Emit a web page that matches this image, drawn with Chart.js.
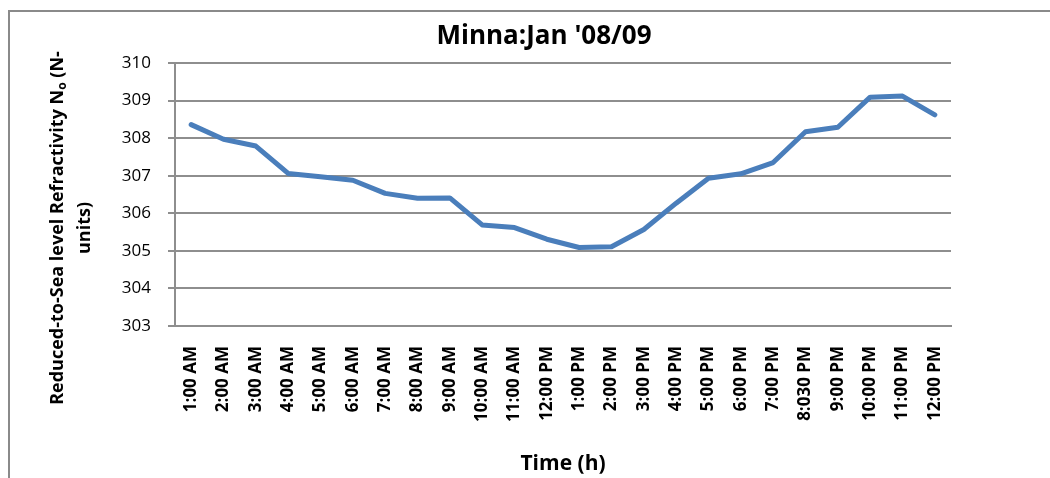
<!DOCTYPE html>
<html>
<head>
<meta charset="utf-8">
<script src="https://cdn.jsdelivr.net/npm/chart.js@4/dist/chart.umd.min.js"></script>
<style>
  html, body { margin: 0; padding: 0; background: #fff; }
  #wrap { position: relative; width: 1050px; height: 478px; }
</style>
</head>
<body>
<div id="wrap"><canvas id="c" width="1050" height="478"></canvas></div>
<script>
// Hourly reduced-to-sea-level refractivity, Minna, January 2008/09
const hours = ['1:00 AM','2:00 AM','3:00 AM','4:00 AM','5:00 AM','6:00 AM','7:00 AM','8:00 AM','9:00 AM','10:00 AM','11:00 AM','12:00 PM',
               '1:00 PM','2:00 PM','3:00 PM','4:00 PM','5:00 PM','6:00 PM','7:00 PM','8:030 PM','9:00 PM','10:00 PM','11:00 PM','12:00 PM'];
const refractivity = [308.36, 307.97, 307.79, 307.06, 306.97, 306.88, 306.53, 306.40, 306.41, 305.69, 305.62, 305.31,
                      305.09, 305.11, 305.57, 306.27, 306.93, 307.05, 307.35, 308.17, 308.29, 309.09, 309.12, 308.62];
const yTicks = [303, 304, 305, 306, 307, 308, 309, 310];

const chartTitle = "Minna:Jan '08/09";
// y-axis title: first line is split around the subscript "o" of N_o
const yTitleLine1 = ['Reduced-to-Sea level Refractivity N', 'o', ' (N-'];
const yTitleLine2 = 'units)';
const xTitle = 'Time (h)';

const FONT = '"Open Sans", sans-serif';
const GRID = '#8e8e8e';

// Frame, chart title and the two-line y-axis title
const decorations = {
  id: 'decorations',
  beforeDraw(chart) {
    const ctx = chart.ctx;
    ctx.save();
    ctx.strokeStyle = '#8a8a8a';
    ctx.lineWidth = 2;
    ctx.beginPath();
    ctx.moveTo(9, 478);
    ctx.lineTo(9, 11);
    ctx.lineTo(1050, 11);
    ctx.stroke();
    ctx.restore();
  },
  afterDraw(chart) {
    const ctx = chart.ctx;
    ctx.save();
    ctx.fillStyle = '#000';
    ctx.textAlign = 'center';
    ctx.textBaseline = 'middle';
    ctx.font = 'bold 26px ' + FONT;
    ctx.fillText(chartTitle, 544, 37);

    // rotated y title, centred on y = 228
    const big = 'bold 18px ' + FONT, small = 'bold 12px ' + FONT;
    ctx.translate(0, 228);
    ctx.rotate(-Math.PI / 2);
    ctx.textAlign = 'left';
    ctx.textBaseline = 'alphabetic';
    ctx.font = big;
    const w0 = ctx.measureText(yTitleLine1[0]).width;
    const w2 = ctx.measureText(yTitleLine1[2]).width;
    ctx.font = small;
    const w1 = ctx.measureText(yTitleLine1[1]).width;
    let x = -(w0 + w1 + w2) / 2;
    const base1 = 63;
    ctx.font = big;
    ctx.fillText(yTitleLine1[0], x, base1);
    x += w0;
    ctx.font = small;
    ctx.fillText(yTitleLine1[1], x, base1 + 3);
    x += w1;
    ctx.font = big;
    ctx.fillText(yTitleLine1[2], x, base1);
    ctx.textAlign = 'center';
    ctx.fillText(yTitleLine2, 0, base1 + 27);
    ctx.restore();
  }
};

new Chart(document.getElementById('c'), {
  type: 'line',
  data: {
    labels: hours,
    datasets: [{
      data: refractivity,
      borderColor: '#4a7ebb',
      borderWidth: 5,
      pointRadius: 0,
      tension: 0,
      borderCapStyle: 'round',
      borderJoinStyle: 'round'
    }]
  },
  options: {
    responsive: false,
    animation: false,
    events: [],
    layout: { padding: { left: 0, right: 99, top: 63, bottom: 0 } },
    plugins: { legend: { display: false }, title: { display: false }, tooltip: { enabled: false } },
    scales: {
      x: {
        offset: true,
        grid: { display: false, drawTicks: false },
        border: { display: true, color: GRID, width: 2 },
        ticks: {
          color: '#000',
          font: { family: FONT, size: 17, weight: 'bold' },
          minRotation: 90, maxRotation: 90,
          padding: 20,
          autoSkip: false
        },
        title: {
          display: true,
          text: xTitle,
          color: '#000',
          font: { family: FONT, size: 21, weight: 'bold' },
          padding: { top: 0, bottom: 1 }
        },
        afterFit(scale) { scale.height = 152; }
      },
      y: {
        min: 303, max: 310,
        afterBuildTicks(scale) { scale.ticks = yTicks.map(v => ({ value: v })); },
        grid: { color: GRID, lineWidth: 2, tickLength: 7, drawTicks: true },
        border: { display: true, color: GRID, width: 2 },
        ticks: {
          color: '#000',
          font: { family: FONT, size: 17 },
          padding: 17
        },
        afterFit(scale) { scale.width = 175; }
      }
    }
  },
  plugins: [decorations]
});
</script>
</body>
</html>
